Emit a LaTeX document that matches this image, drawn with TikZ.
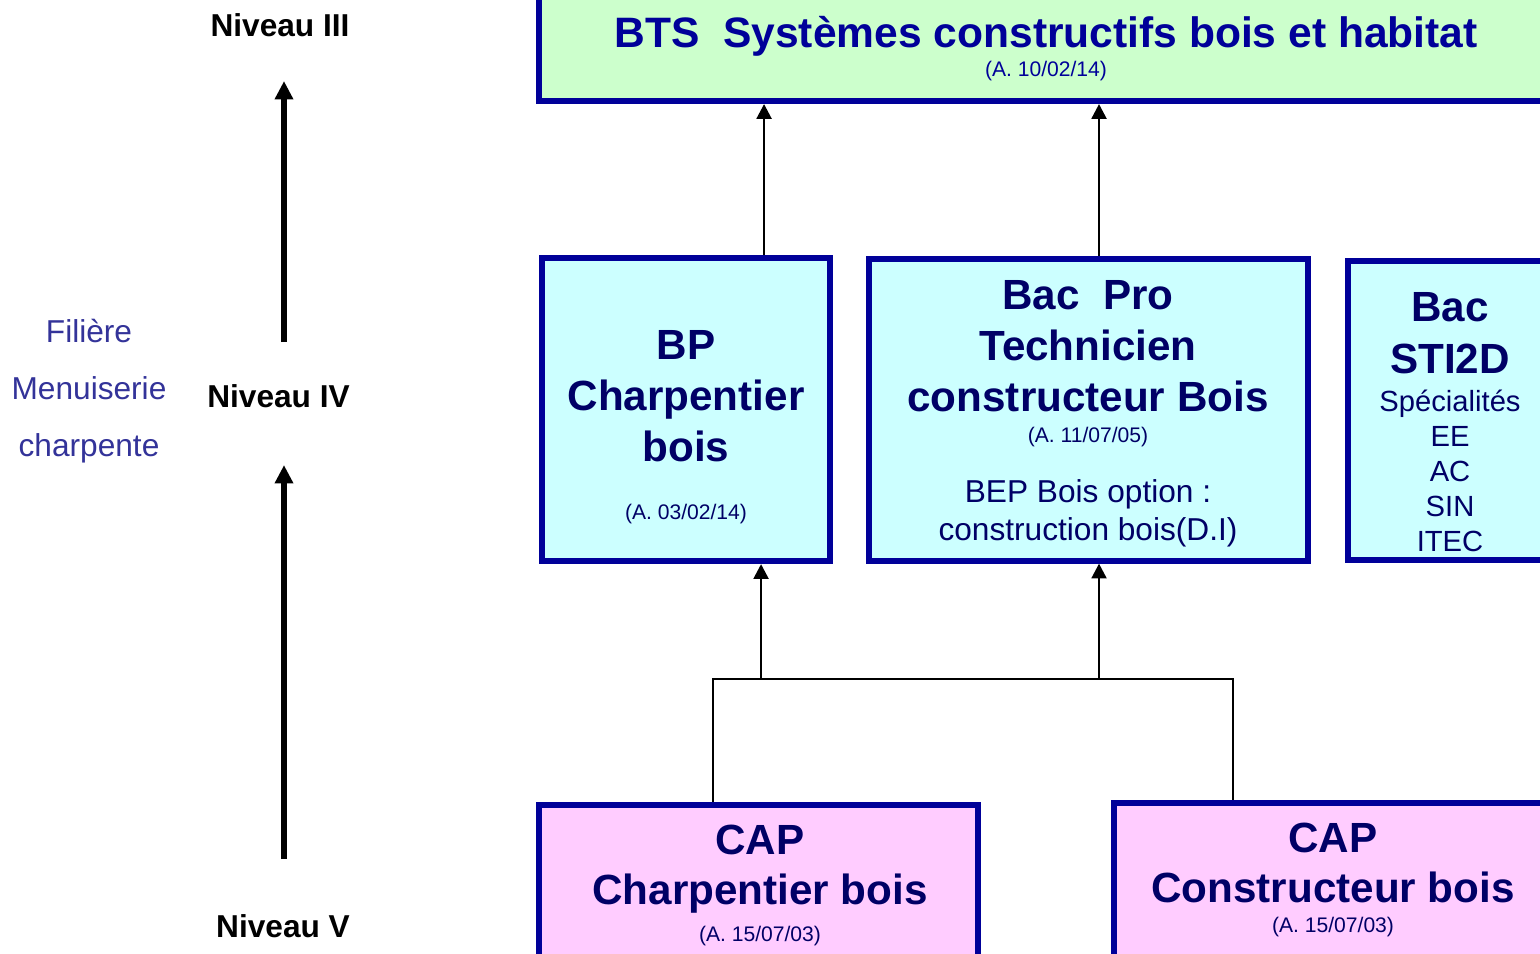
\documentclass[tikz,border=0pt]{standalone}
\usepackage{fontspec}
\setmainfont{Liberation Sans}
\usetikzlibrary{arrows.meta}
\definecolor{cadre}{RGB}{0,0,153}
\definecolor{encre}{RGB}{0,0,102}
\definecolor{filiere}{RGB}{51,51,153}
\definecolor{fondvert}{RGB}{204,255,204}
\definecolor{fondcyan}{RGB}{204,255,255}
\definecolor{fondrose}{RGB}{255,204,255}
\begin{document}
\begin{tikzpicture}[x=0.01cm,y=-0.01cm,
        boite/.style={draw=cadre,line width=1.7pt,inner sep=0pt},
        texte/.style={inner sep=0pt,align=center,text=encre,font=\fontsize{12}{14.5}\selectfont\bfseries},
        petit/.style={inner sep=0pt,align=center},
        lien/.style={line width=0.75pt},
        fleche/.style={lien,-{Triangle[length=4.2pt,width=4.2pt]}},
        niveau/.style={inner sep=0pt,font=\fontsize{9}{11}\selectfont\bfseries},
        montee/.style={line width=1.45pt,-{Triangle[length=5.2pt,width=5pt]}}]
        \path[use as bounding box,clip] (0,0) rectangle (1540,953);
        % niveaux
        \node[niveau,anchor=base] (n3) at (280,36) {Niveau III};
        \node[niveau,anchor=base] (n4) at (278.5,407) {Niveau IV};
        \node[niveau,anchor=base] (n5) at (283,937) {Niveau V};
        \coordinate (axe) at (284,0);
        \draw[montee,shorten <=0.413cm,shorten >=0.44cm] (axe |- n4.north) -- (axe |- n3.south);
        \draw[montee,shorten <=0.543cm,shorten >=0.57cm] (axe |- n5.north) -- (axe |- n4.south);
        \node[petit,text=filiere,font=\fontsize{9}{16.3}\selectfont] (fil) at (89,391) {Filière\\Menuiserie\\charpente};
        % cadres
        \node[boite,fill=fondvert,minimum width=10.205cm,minimum height=1.11cm] (bts) at (1049.75,45.5) {};
        \node[boite,fill=fondcyan,minimum width=2.87cm,minimum height=3.025cm] (bp) at (686,409.75) {};
        \node[boite,fill=fondcyan,minimum width=4.385cm,minimum height=3.01cm] (bacpro) at (1088.75,410) {};
        \node[boite,fill=fondcyan,minimum width=2.12cm,minimum height=2.985cm] (sti) at (1454,410.75) {};
        \node[boite,fill=fondrose,minimum width=4.39cm,minimum height=1.95cm] (capA) at (758.5,902.5) {};
        \node[boite,fill=fondrose,minimum width=4.46cm,minimum height=1.97cm] (capB) at (1337,901.5) {};
        % textes
        \node[texte,text=cadre,font=\fontsize{12.1}{14.5}\selectfont\bfseries] (btsT) at (1046,48.4) {BTS~~Systèmes constructifs bois et habitat\\[-6.3pt]{\mdseries\fontsize{6}{7}\selectfont (A. 10/02/14)}};
        \node[texte] (bpT) at (686,427) {BP\\Charpentier\\bois\\[2pt]{\mdseries\fontsize{6}{7}\selectfont (A. 03/02/14)}};
        \node[texte] (bacproT) at (1088,413.7) {Bac~~Pro\\Technicien\\constructeur Bois\\[-5.7pt]{\mdseries\fontsize{6}{7}\selectfont (A. 11/07/05)}\\[2.8pt]{\mdseries\fontsize{9}{11}\selectfont BEP Bois option :}\\[-3.7pt]{\mdseries\fontsize{9}{11}\selectfont construction bois(D.I)}};
        \node[texte,font=\fontsize{12}{14.7}\selectfont\bfseries] (stiT) at (1450,422.4) {Bac\\STI2D\\[-3.9pt]{\mdseries\fontsize{8.3}{10}\selectfont Spécialités}\\[-4.7pt]{\mdseries\fontsize{8.3}{10}\selectfont EE}\\[-4.7pt]{\mdseries\fontsize{8.3}{10}\selectfont AC}\\[-4.7pt]{\mdseries\fontsize{8.3}{10}\selectfont SIN}\\[-4.7pt]{\mdseries\fontsize{8.3}{10}\selectfont ITEC}};
        \node[texte,font=\fontsize{12}{14.2}\selectfont\bfseries] (capAT) at (760,885.5) {CAP\\Charpentier bois\\[-3.7pt]{\mdseries\fontsize{6}{7}\selectfont (A. 15/07/03)}};
        \node[texte,font=\fontsize{12}{14.2}\selectfont\bfseries] (capBT) at (1333,880) {CAP\\Constructeur bois\\[-5.7pt]{\mdseries\fontsize{6}{7}\selectfont (A. 15/07/03)}};
        % liens
        \coordinate (bpHaut) at ([xshift=0.78cm]bp.north);
        \coordinate (bacHaut) at ([xshift=0.1025cm]bacpro.north);
        \draw[fleche] (bpHaut) -- (bpHaut |- bts.south);
        \draw[fleche] (bacHaut) -- (bacHaut |- bts.south);
        \coordinate (rail) at (0,679);
        \coordinate (capAHaut) at ([xshift=-0.455cm]capA.north);
        \coordinate (capBHaut) at ([xshift=-1.04cm]capB.north);
        \draw[lien] (capAHaut) -- (capAHaut |- rail) -- (capBHaut |- rail) -- (capBHaut);
        \coordinate (bpBas) at ([xshift=0.75cm]bp.south);
        \coordinate (bacBas) at ([xshift=0.1025cm]bacpro.south);
        \draw[fleche] (bpBas |- rail) -- (bpBas);
        \draw[fleche] (bacBas |- rail) -- (bacBas);
\end{tikzpicture}
\end{document}
